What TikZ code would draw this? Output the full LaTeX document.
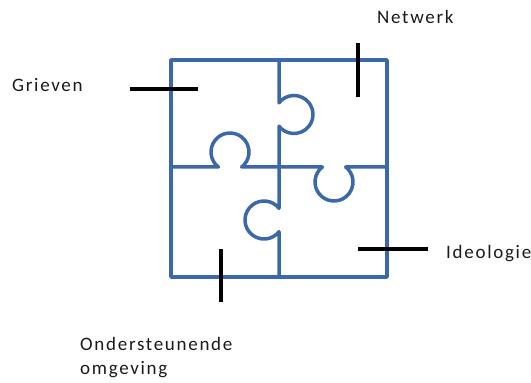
\documentclass[tikz,border=0pt]{standalone}
\usepackage{fontspec}
\newfontfamily\lblfont{Carlito}[LetterSpace=9]
\definecolor{puzzleblue}{HTML}{3B68A8}
\definecolor{lbltext}{HTML}{1A1A1A}
\tikzset{
  puzzle/.style={draw=puzzleblue, line width=3.5pt, line join=round},
  tick/.style={draw=black, line width=3.5pt},
  lbl/.style={anchor=base west, inner sep=0pt, text=lbltext, font=\lblfont\fontsize{19}{24}\selectfont, align=left}
}
\begin{document}
\begin{tikzpicture}[x=1pt,y=1pt]
\useasboundingbox (0,0) rectangle (531,383);
% outer frame
\draw[puzzle] (171,106) rectangle (387,323);
% vertical divider with knobs
\draw[puzzle] (279,323) -- (279,280.16)
  arc[start angle=142.1, end angle=-142.1, radius=19]
  -- (279,174.66)
  arc[start angle=37.9, end angle=322.1, radius=19]
  -- (279,106);
% horizontal divider with knobs
\draw[puzzle] (171,216) -- (218.34,216)
  arc[start angle=232.1, end angle=-52.1, radius=19]
  -- (322.34,216)
  arc[start angle=127.9, end angle=412.1, radius=19]
  -- (387,216);
% tick marks
\coordinate (g1) at (130,294); \coordinate (g2) at (198,294);
\coordinate (n1) at (358,340); \coordinate (n2) at (358,286);
\coordinate (i1) at (358,134); \coordinate (i2) at (428,134);
\coordinate (o1) at (221,134); \coordinate (o2) at (221,81);
\draw[tick] (g1) -- (g2);
\draw[tick] (n1) -- (n2);
\draw[tick] (i1) -- (i2);
\draw[tick] (o1) -- (o2);
% labels
\node[lbl] (grieven) at (12,291) {Grieven};
\node[lbl] (netwerk) at (377,359) {Netwerk};
\node[lbl] (ideologie) at (446,124) {Ideologie};
\node[lbl] (omgeving) at (80,8) {Ondersteunende\\omgeving};
\end{tikzpicture}
\end{document}
